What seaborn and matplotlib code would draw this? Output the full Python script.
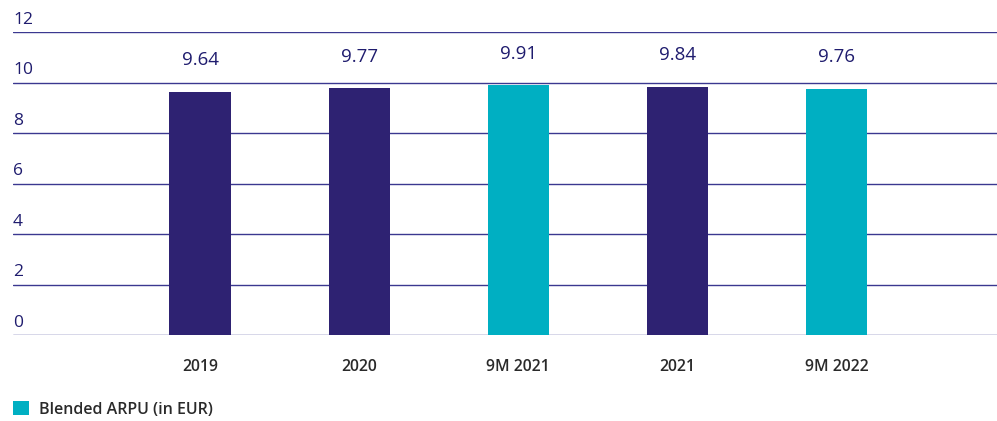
import matplotlib
matplotlib.use("Agg")
import matplotlib.pyplot as plt
import matplotlib.transforms as mtransforms
from matplotlib.patches import Patch
import seaborn as sns
import pandas as pd

categories = ["2019", "2020", "9M 2021", "2021", "9M 2022"]
values = [9.64, 9.77, 9.91, 9.84, 9.76]
value_labels = ["9.64", "9.77", "9.91", "9.84", "9.76"]
yticks = [0, 2, 4, 6, 8, 10, 12]
legend_label = "Blended ARPU (in EUR)"

NAVY = "#2e2272"
TEAL = "#00afc2"
bar_colors = [NAVY, NAVY, TEAL, NAVY, TEAL]
TEXT_NAVY = "#1f1c6e"

sns.set_theme(style="white")
plt.rcParams["font.family"] = ["Open Sans", "DejaVu Sans"]

fig = plt.figure(figsize=(9.97, 4.21), dpi=100)
ax = fig.add_axes([13 / 997, 86 / 421, 1 - 13 / 997, (335 - 32) / 421])

df = pd.DataFrame({"cat": categories, "val": values})
sns.barplot(data=df, x="cat", y="val", hue="cat", palette=bar_colors,
            legend=False, width=0.385, ax=ax, saturation=1, linewidth=0,
            zorder=3)

ax.set_ylim(0, 12)
ax.set_xlim(-1.176, 5.01)
ax.set_xlabel("")
ax.set_ylabel("")
for s in ax.spines.values():
    s.set_visible(False)

ax.set_yticks(yticks)
ax.set_yticklabels([])
ax.tick_params(axis="y", length=0)
for t in yticks:
    ax.axhline(t, color="#3b3890", lw=1.0, zorder=1)
trans = mtransforms.blended_transform_factory(ax.transAxes, ax.transData)
for t in yticks:
    ax.annotate(str(t), xy=(0, t), xycoords=trans, xytext=(0, 3),
                textcoords="offset points", ha="left", va="bottom",
                fontsize=12.5, color=TEXT_NAVY)

ax.tick_params(axis="x", length=0, pad=17, labelsize=11.3, labelcolor="#2a2a2a")
for lbl in ax.get_xticklabels():
    lbl.set_fontweight("semibold")

for i, (v, lab) in enumerate(zip(values, value_labels)):
    ax.annotate(lab, xy=(i, v), xytext=(0, 16), textcoords="offset points",
                ha="center", va="bottom", fontsize=13.5, color=TEXT_NAVY)

fig.legend(handles=[Patch(facecolor=TEAL, edgecolor="none", label=legend_label)],
           loc="lower left", bbox_to_anchor=(-0.001, -0.026), frameon=False,
           handlelength=1.0, handleheight=1.0, handletextpad=0.6,
           labelcolor="#2a2a2a", prop={"weight": "semibold", "size": 11.5})

fig.savefig("out.png", dpi=100)
